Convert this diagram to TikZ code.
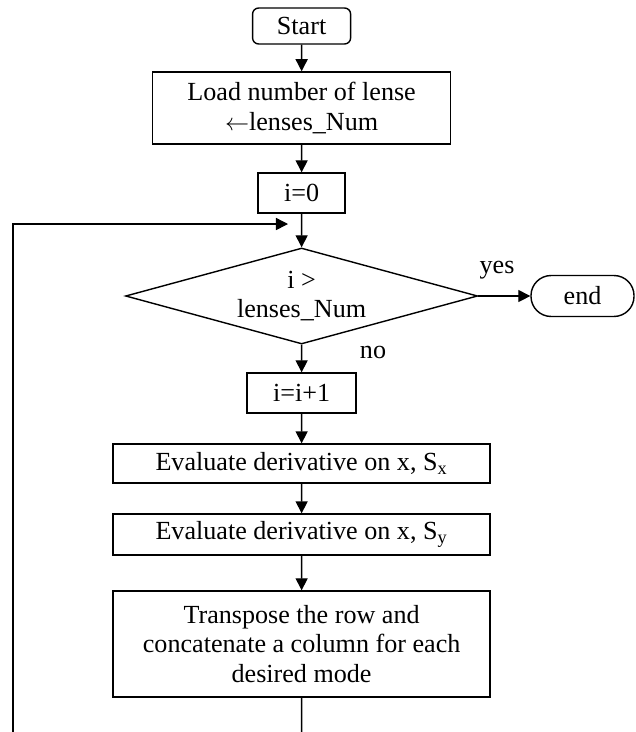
\documentclass[tikz,border=0pt]{standalone}
\usepackage{fontspec}
\setmainfont{Liberation Serif}
\usetikzlibrary{arrows.meta,shapes.geometric}

\tikzset{
  box/.style={draw, line width=.7pt, align=center, inner sep=2pt},
  term/.style={box, rounded corners=3pt},
  flow/.style={-{Triangle[length=6pt,width=6pt]}, line width=.7pt},
}

\begin{document}
\begin{tikzpicture}[scale=.35, font=\fontsize{13}{14.5}\selectfont]
                \useasboundingbox (0,0) rectangle (31.75,-36.6);

                \node[term, minimum width=48.8pt, minimum height=17.9pt] (start) at (15.08,-1.3){Start};
                \node[box, minimum width=148.4pt, minimum height=35.9pt] (load) at (15.08,-5.4){Load number of lense\\$\leftarrow$lenses\_Num};
                \draw [flow] (start) -- (load);

                \node[box, minimum width=43.3pt, minimum height=19.9pt] (zero) at (15.08,-9.65){i=0};
                \draw [flow] (load) -- (zero);

                \node[draw, diamond, line width=.7pt, aspect=3.67, inner sep=0pt, align=center,
                      minimum width=175.3pt, minimum height=47.8pt] (test) at (15.08,-14.8){i >\\lenses\_Num};
                \draw [flow] (zero) -- (test);

                \node[box, rounded corners=10pt, minimum width=51.3pt, minimum height=20.4pt] (finish) at (29.125,-14.8){end};
                \draw [flow] (test.east) -- (finish.west);
                \node (yes) at (24.85,-13.5){yes};
                \node (no) at (18.65,-17.6){no};

                \node[box, minimum width=54.3pt, minimum height=19.9pt] (inc) at (15.08,-19.65){i=i+1};
                \draw [flow] (test) -- (inc);

                \node[box, minimum width=187.8pt, minimum height=19.4pt] (sx) at (15.08,-23.175){Evaluate derivative on x, S\textsubscript{x}};
                \draw [flow] (inc) -- (sx);

                \node[box, minimum width=187.8pt, minimum height=20.4pt] (sy) at (15.08,-26.725){Evaluate derivative on x, S\textsubscript{y}};
                \draw [flow] (sx) -- (sy);

                \node[box, minimum width=187.8pt, minimum height=52.8pt] (trans) at (15.08,-32.2){Transpose the row and\\concatenate a column for each\\desired mode};
                \draw [flow] (sy) -- (trans);

                % loop back into the test
                \coordinate (down) at (15.08,-36.6);
                \coordinate (back) at (0.65,-36.6);
                \coordinate (entry) at (14.4,-11.2);
                \draw [line width=.7pt] (trans) -- (down);
                \draw [flow] (back) |- (entry);
            \end{tikzpicture}
\end{document}
